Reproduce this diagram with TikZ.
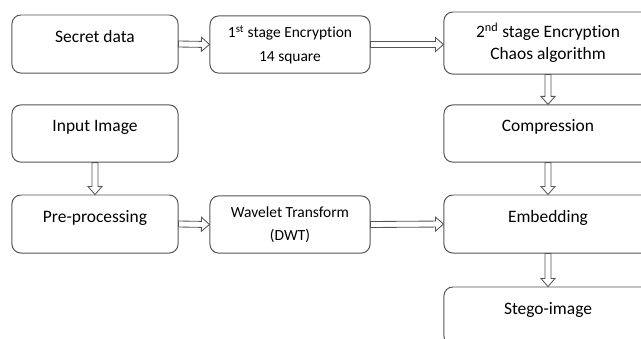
\documentclass[tikz,border=0pt]{standalone}
\usepackage{fontspec}
\setmainfont{Carlito}[Ligatures=NoCommon]
\usetikzlibrary{calc,positioning}
\definecolor{boxgray}{RGB}{85,85,85}

\begin{document}
\begin{tikzpicture}[x=0.025cm,y=-0.025cm,
    box/.style={draw=boxgray,line width=0.7pt,rounded corners=0.22cm,fill=white,
      font=\fontsize{12.4pt}{15.6pt}\selectfont,align=center},
    onebox/.style={box,text height=0.3cm,text depth=0.4cm},
    smallbox/.style={box,font=\fontsize{11pt}{16.5pt}\selectfont},
    hollow/.style={draw=boxgray,line width=0.6pt,fill=white,to path={
      ($(\tikztostart)!0.075cm!90:(\tikztotarget)$)
      -- ($ ($(\tikztotarget)!0.2cm!(\tikztostart)$)!0.075cm!-90:(\tikztostart) $)
      -- ($ ($(\tikztotarget)!0.2cm!(\tikztostart)$)!0.175cm!-90:(\tikztostart) $)
      -- (\tikztotarget)
      -- ($ ($(\tikztotarget)!0.2cm!(\tikztostart)$)!0.175cm!90:(\tikztostart) $)
      -- ($ ($(\tikztotarget)!0.2cm!(\tikztostart)$)!0.075cm!90:(\tikztostart) $)
      -- ($(\tikztostart)!0.075cm!-90:(\tikztotarget)$) -- cycle}}]
  \useasboundingbox (0,0) rectangle (641,338);

  % left column
  \node[onebox,minimum width=4.15cm,minimum height=1.45cm] (secret) at (95,44) {Secret data};
  \node[onebox,minimum width=4.15cm,minimum height=1.43cm] (input) at (95,133.5) {Input Image};
  \node[onebox,minimum width=4.15cm,minimum height=1.45cm] (pre) at (95,224) {Pre-processing};

  % middle column
  \node[smallbox,minimum width=4cm,minimum height=1.43cm] (enc1) at (290,44.5)
    {1\textsuperscript{st} stage Encryption\\14 square};
  \node[smallbox,minimum width=4cm,minimum height=1.43cm] (wavelet) at (290,224.5)
    {Wavelet Transform\\(DWT)};

  % right column
  \node[box,minimum width=5.2cm,minimum height=1.55cm] (enc2) at (548,43)
    {2\textsuperscript{nd} stage Encryption\\Chaos algorithm};
  \node[onebox,minimum width=5.2cm,minimum height=1.43cm] (compress) at (548,133.5) {Compression};
  \node[onebox,minimum width=5.2cm,minimum height=1.45cm] (embed) at (548,224) {Embedding};
  \node[onebox,minimum width=5.2cm,minimum height=1.45cm] (stego) at (548,316) {Stego-image};

  % arrows
  \draw[hollow] (secret.east) to (enc1.west);
  \draw[hollow] (enc1.east) to (enc1.east -| enc2.west);
  \draw[hollow] (enc2.south) to (compress.north);
  \draw[hollow] (input.south) to (pre.north);
  \draw[hollow] (compress.south) to (embed.north);
  \draw[hollow] (pre.east) to (wavelet.west);
  \draw[hollow] (wavelet.east) to (embed.west);
  \draw[hollow] (embed.south) to (stego.north);
\end{tikzpicture}
\end{document}
